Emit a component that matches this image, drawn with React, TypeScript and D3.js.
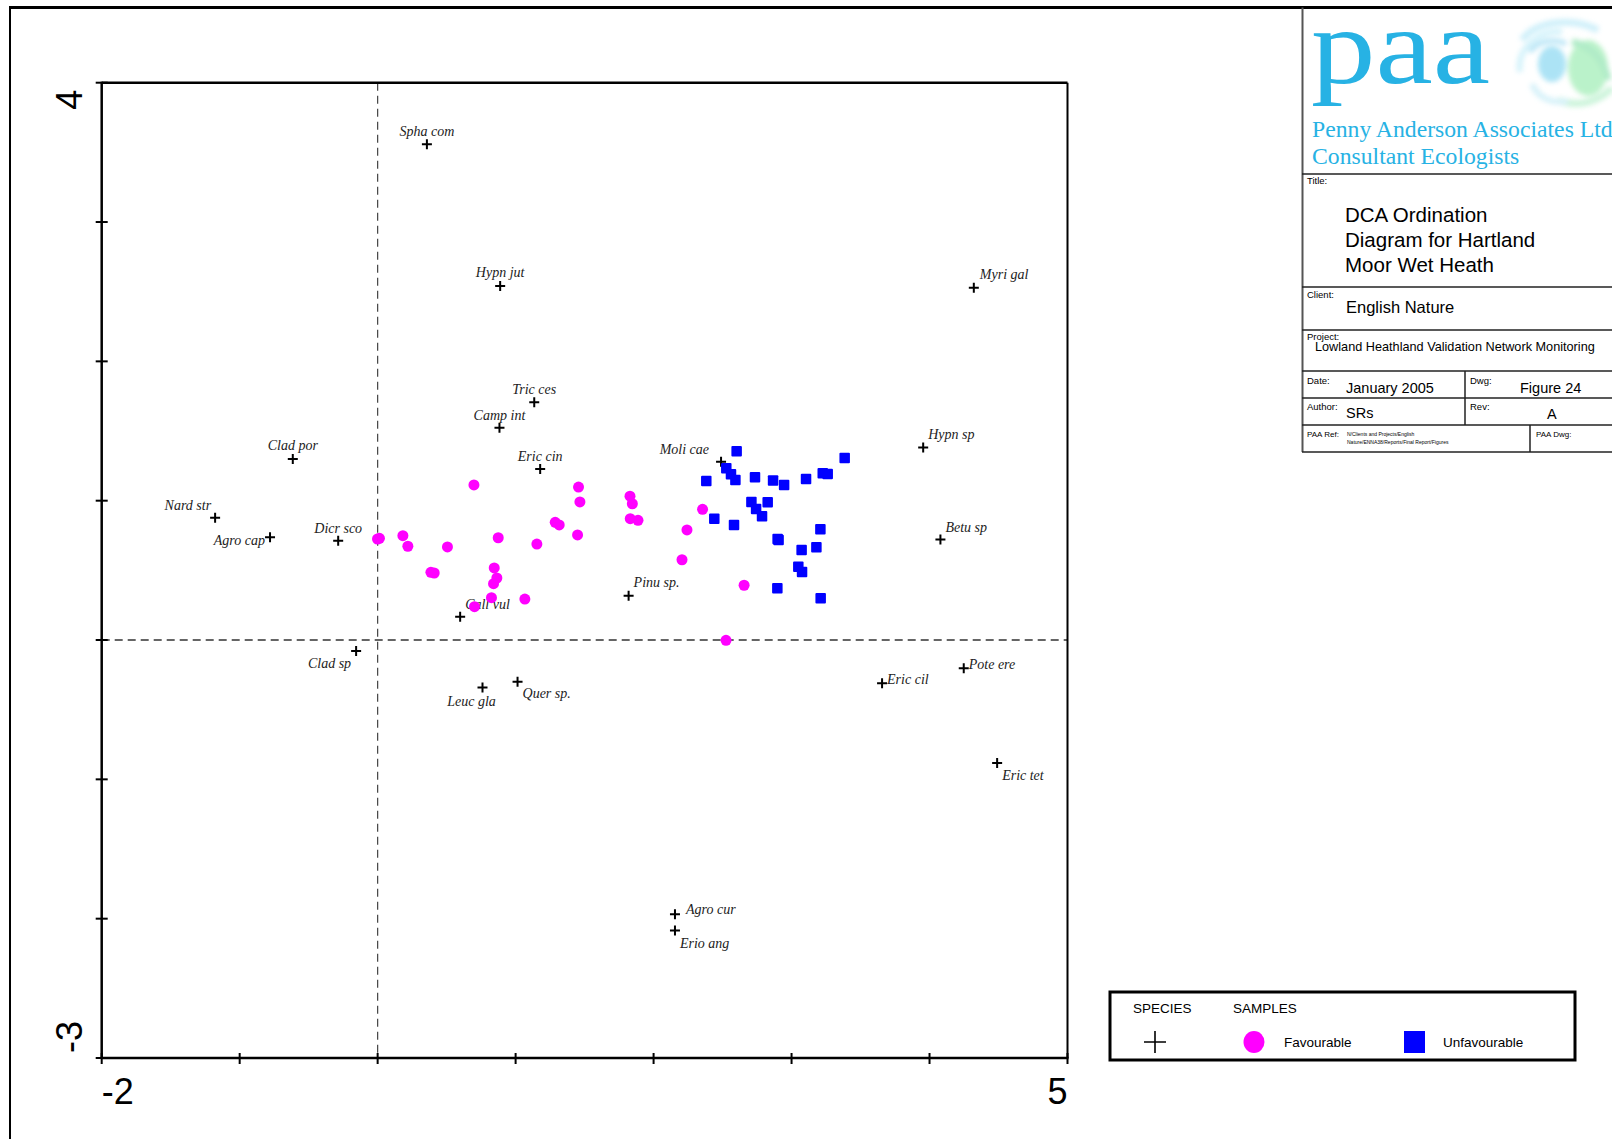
import React from 'react';
import * as d3 from 'd3';

// ---------- DATA ----------
const speciesNames = [
  'Spha com', 'Hypn jut', 'Myri gal', 'Tric ces', 'Camp int', 'Clad por', 'Eric cin', 'Moli cae',
  'Hypn sp', 'Nard str', 'Agro cap', 'Dicr sco', 'Betu sp', 'Pinu sp.', 'Call vul', 'Clad sp',
  'Leuc gla', 'Quer sp.', 'Eric cil', 'Pote ere', 'Eric tet', 'Agro cur', 'Erio ang',
];
const speciesX = [
  0.357, 0.888, 4.321, 1.135, 0.883, -0.615, 1.178, 2.489,
  3.954, -1.178, -0.780, -0.286, 4.079, 1.819, 0.598, -0.156,
  0.760, 1.014, 3.656, 4.248, 4.490, 2.155, 2.155,
];
const speciesY = [
  3.558, 2.541, 2.528, 1.706, 1.524, 1.299, 1.227, 1.280,
  1.382, 0.878, 0.737, 0.713, 0.721, 0.318, 0.167, -0.079,
  -0.340, -0.299, -0.311, -0.202, -0.883, -1.968, -2.085,
];

const favourableX = [
  0.698, -0.001, 0.013, 0.183, 0.219, 0.506, 0.874, 1.154, 1.287, 1.316,
  1.456, 1.466, 1.449, 1.829, 1.846, 1.831, 1.887, 2.355, 2.242, 2.206,
  2.656, 2.525, 0.386, 0.410, 0.845, 0.864, 0.840, 0.825, 0.702, 1.067,
];
const favourableY = [
  1.113, 0.725, 0.730, 0.749, 0.673, 0.668, 0.734, 0.689, 0.845, 0.826,
  1.098, 0.991, 0.754, 1.032, 0.978, 0.871, 0.859, 0.938, 0.790, 0.576,
  0.393, -0.002, 0.486, 0.481, 0.517, 0.445, 0.404, 0.304, 0.239, 0.294,
];

const unfavourableX = [
  2.602, 2.527, 2.561, 2.593, 2.382, 2.735, 2.866, 2.946, 3.105, 3.226,
  3.262, 3.385, 2.709, 2.743, 2.786, 2.827, 2.440, 2.583, 2.899, 2.906,
  3.209, 3.073, 3.180, 3.049, 3.076, 2.897, 3.211,
];
const unfavourableY = [
  1.355, 1.233, 1.190, 1.149, 1.141, 1.168, 1.144, 1.113, 1.156, 1.197,
  1.192, 1.307, 0.991, 0.940, 0.888, 0.989, 0.871, 0.826, 0.725, 0.718,
  0.795, 0.646, 0.665, 0.526, 0.488, 0.371, 0.299,
];

const xDomain = [-2, 5];
const yDomain = [-3, 4];
const xTickLabels = ['-2', '5'];
const yTickLabels = ['-3', '4'];

// label placement (layout only): [anchor, dx, dy]
const labelPlacement: Record<string, [string, number, number]> = {
  'Spha com': ['middle', 0, -8],
  'Hypn jut': ['middle', 0, -9],
  'Myri gal': ['start', 6, -9],
  'Tric ces': ['middle', 0, -8],
  'Camp int': ['middle', 0, -8],
  'Clad por': ['middle', 0, -9],
  'Eric cin': ['middle', 0, -8],
  'Moli cae': ['end', -12, -8],
  'Hypn sp': ['start', 5, -8],
  'Nard str': ['end', -4, -8],
  'Agro cap': ['end', -5, 8],
  'Dicr sco': ['middle', 0, -8],
  'Betu sp': ['start', 5, -8],
  'Pinu sp.': ['start', 5, -9],
  'Call vul': ['start', 5, -8],
  'Clad sp': ['end', -5, 17],
  'Leuc gla': ['middle', -11, 19],
  'Quer sp.': ['start', 5, 16],
  'Eric cil': ['start', 5, 1],
  'Pote ere': ['start', 5, 1],
  'Eric tet': ['start', 5, 17],
  'Agro cur': ['start', 11, 0],
  'Erio ang': ['start', 5, 17],
};

const SANS = '"Liberation Sans", Arial, sans-serif';
const SERIF = '"Liberation Serif", "Times New Roman", serif';
const CYAN = '#27b2e4';

export default function App() {
  const W = 1612, H = 1139;
  const left = 101.7, right = 1067.5, top = 82.7, bottom = 1058;
  const x = d3.scaleLinear().domain(xDomain).range([left, right]);
  const y = d3.scaleLinear().domain(yDomain).range([bottom, top]);
  const xTicks = d3.range(xDomain[0], xDomain[1] + 1);
  const yTicks = d3.range(yDomain[0], yDomain[1] + 1);

  const species = speciesNames.map((n, i) => ({ n, x: speciesX[i], y: speciesY[i] }));
  const fav = favourableX.map((v, i) => ({ x: v, y: favourableY[i] }));
  const unfav = unfavourableX.map((v, i) => ({ x: v, y: unfavourableY[i] }));

  const sq = 10.5;

  return (
    <svg width={W} height={H} style={{ position: 'absolute', left: 0, top: 0, background: '#fff' }}>
      <defs>
        <filter id="blur" x="-50%" y="-50%" width="200%" height="200%">
          <feGaussianBlur stdDeviation="2.5" />
        </filter>
        <clipPath id="pageclip"><rect x={0} y={0} width={W} height={H} /></clipPath>
      </defs>
      <rect x={0} y={0} width={W} height={H} fill="#fff" />

      {/* outer border */}
      <line x1={10} y1={7.5} x2={W} y2={7.5} stroke="#000" strokeWidth={3} />
      <line x1={10} y1={6} x2={10} y2={H} stroke="#000" strokeWidth={2} />

      {/* dashed reference lines */}
      <line x1={x(0)} y1={top} x2={x(0)} y2={bottom} stroke="#444" strokeWidth={1.2} strokeDasharray="8,5" />
      <line x1={left} y1={y(0)} x2={right} y2={y(0)} stroke="#333" strokeWidth={1.3} strokeDasharray="8,5" />

      {/* frame */}
      <line x1={left} y1={top} x2={right} y2={top} stroke="#000" strokeWidth={2.5} />
      <line x1={right} y1={top} x2={right} y2={bottom} stroke="#000" strokeWidth={2} />
      <line x1={left} y1={top - 1} x2={left} y2={bottom + 1} stroke="#000" strokeWidth={2.5} />
      <line x1={left - 1} y1={bottom} x2={right + 1} y2={bottom} stroke="#000" strokeWidth={2.5} />
      {xTicks.map((t) => (
        <line key={'xt' + t} x1={x(t)} y1={bottom - 5} x2={x(t)} y2={bottom + 6} stroke="#000" strokeWidth={2} />
      ))}
      {yTicks.map((t) => (
        <line key={'yt' + t} x1={left - 6} y1={y(t)} x2={left + 6} y2={y(t)} stroke="#000" strokeWidth={2} />
      ))}

      {/* axis end labels */}
      <text x={x(xDomain[0])} y={1104} fontFamily={SANS} fontSize={36} textAnchor="start">{xTickLabels[0]}</text>
      <text x={x(xDomain[1])} y={1104} fontFamily={SANS} fontSize={36} textAnchor="end">{xTickLabels[1]}</text>
      <text transform={`translate(82,${y(yDomain[1]) + 7}) rotate(-90)`} fontFamily={SANS} fontSize={36} textAnchor="end">{yTickLabels[1]}</text>
      <text transform={`translate(82,${y(yDomain[0]) - 5}) rotate(-90)`} fontFamily={SANS} fontSize={36} textAnchor="start">{yTickLabels[0]}</text>

      {/* species */}
      {species.map((s) => {
        const cx = x(s.x), cy = y(s.y);
        const [anchor, dx, dy] = labelPlacement[s.n];
        return (
          <g key={s.n}>
            <path d={`M${cx - 5},${cy}H${cx + 5}M${cx},${cy - 5}V${cy + 5}`} stroke="#000" strokeWidth={2} />
            <text x={cx + dx} y={cy + dy} fontFamily={SERIF} fontStyle="italic" fontSize={14} fill="#222" textAnchor={anchor}>{s.n}</text>
          </g>
        );
      })}

      {/* samples */}
      {fav.map((d, i) => (
        <circle key={'f' + i} cx={x(d.x)} cy={y(d.y)} r={5.5} fill="#ff00ff" />
      ))}
      {unfav.map((d, i) => (
        <rect key={'u' + i} x={x(d.x) - sq / 2} y={y(d.y) - sq / 2} width={sq} height={sq} rx={1} fill="#0000ff" />
      ))}

      {/* legend */}
      <rect x={1110} y={992} width={465} height={68} fill="#fff" stroke="#000" strokeWidth={3} />
      <text x={1133} y={1013} fontFamily={SANS} fontSize={13.5}>SPECIES</text>
      <text x={1233} y={1013} fontFamily={SANS} fontSize={13.5}>SAMPLES</text>
      <path d="M1144,1042H1166M1155,1031V1053" stroke="#000" strokeWidth={1.6} />
      <ellipse cx={1254} cy={1042} rx={10.5} ry={11} fill="#ff00ff" />
      <text x={1284} y={1047} fontFamily={SANS} fontSize={13.5}>Favourable</text>
      <rect x={1404} y={1031} width={21} height={22} fill="#0000ff" />
      <text x={1443} y={1047} fontFamily={SANS} fontSize={13.5}>Unfavourable</text>

      {/* title block */}
      <g clipPath="url(#pageclip)">
        <line x1={1302.5} y1={7.5} x2={1302.5} y2={452} stroke="#555" strokeWidth={2} />
        {[174, 287, 330, 371, 398, 425, 452].map((yy) => (
          <line key={'h' + yy} x1={1302} y1={yy} x2={W} y2={yy} stroke="#222" strokeWidth={1.5} />
        ))}
        <line x1={1465} y1={371} x2={1465} y2={425} stroke="#222" strokeWidth={1.5} />
        <line x1={1530} y1={425} x2={1530} y2={452} stroke="#222" strokeWidth={1.5} />

        {/* logo */}
        <text x={1311} y={83} fontFamily={SERIF} fontSize={108} fill={CYAN} textLength={179} lengthAdjust="spacingAndGlyphs">paa</text>
        <g filter="url(#blur)" opacity={0.7}>
          <path d="M1522,40 C1535,22 1570,16 1598,30" stroke="#bdeaf8" strokeWidth={7} fill="none" />
          <path d="M1520,72 C1516,48 1540,30 1562,32" stroke="#c4eef9" strokeWidth={6} fill="none" />
          <path d="M1530,52 C1538,40 1556,38 1566,44" stroke="#9fdcf3" strokeWidth={5} fill="none" />
          <ellipse cx={1552} cy={64} rx={14} ry={18} fill="#8ad8f2" />
          <ellipse cx={1588} cy={68} rx={20} ry={28} fill="#9eedb4" />
          <path d="M1572,42 C1590,45 1605,60 1608,80" stroke="#8fe3b0" strokeWidth={7} fill="none" />
          <path d="M1558,100 C1578,108 1598,102 1612,88" stroke="#b8f0cc" strokeWidth={7} fill="none" />
          <path d="M1532,84 C1538,98 1552,104 1568,101" stroke="#c6ecf7" strokeWidth={6} fill="none" />
        </g>
        <text x={1312} y={137} fontFamily={SERIF} fontSize={23.7} fill={CYAN}>Penny Anderson Associates Ltd</text>
        <text x={1312} y={164} fontFamily={SERIF} fontSize={23.7} fill={CYAN}>Consultant Ecologists</text>

        <text x={1307} y={184} fontFamily={SANS} fontSize={9.5}>Title:</text>
        <text x={1345} y={221.5} fontFamily={SANS} fontSize={20.5}>DCA Ordination</text>
        <text x={1345} y={246.5} fontFamily={SANS} fontSize={20.5}>Diagram for Hartland</text>
        <text x={1345} y={271.5} fontFamily={SANS} fontSize={20.5}>Moor Wet Heath</text>

        <text x={1307} y={298} fontFamily={SANS} fontSize={9.5}>Client:</text>
        <text x={1346} y={313} fontFamily={SANS} fontSize={16.5}>English Nature</text>

        <text x={1307} y={340} fontFamily={SANS} fontSize={9.5}>Project:</text>
        <text x={1315} y={351} fontFamily={SANS} fontSize={12.7}>Lowland Heathland Validation Network Monitoring</text>

        <text x={1307} y={384} fontFamily={SANS} fontSize={9.5}>Date:</text>
        <text x={1346} y={393} fontFamily={SANS} fontSize={14.5}>January 2005</text>
        <text x={1470} y={384} fontFamily={SANS} fontSize={9.5}>Dwg:</text>
        <text x={1520} y={393} fontFamily={SANS} fontSize={14.5}>Figure 24</text>

        <text x={1307} y={410} fontFamily={SANS} fontSize={9.5}>Author:</text>
        <text x={1346} y={418} fontFamily={SANS} fontSize={14.5}>SRs</text>
        <text x={1470} y={410} fontFamily={SANS} fontSize={9.5}>Rev:</text>
        <text x={1547} y={419} fontFamily={SANS} fontSize={14.5}>A</text>

        <text x={1307} y={437} fontFamily={SANS} fontSize={8}>PAA Ref:</text>
        <text x={1347} y={436} fontFamily={SANS} fontSize={5}>N/Clients and Projects/English</text>
        <text x={1347} y={444} fontFamily={SANS} fontSize={5}>Nature/ENNA38/Reports/Final Report/Figures</text>
        <text x={1536} y={437} fontFamily={SANS} fontSize={8}>PAA Dwg:</text>
      </g>
    </svg>
  );
}
